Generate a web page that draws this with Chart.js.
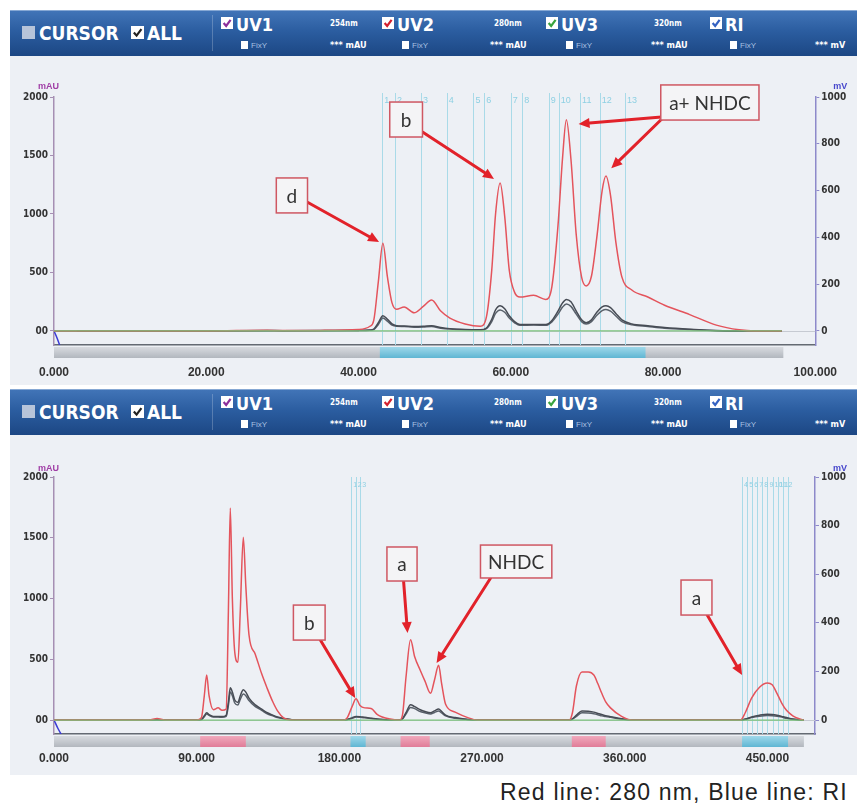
<!DOCTYPE html>
<html>
<head>
<meta charset="utf-8">
<script src="https://cdn.jsdelivr.net/npm/chart.js@4.4.1/dist/chart.umd.min.js"></script>
<style>
  body { margin: 0; background: #fff; }
  #page { position: relative; width: 857px; height: 810px; overflow: hidden; }
  .bar { position: absolute; left: 10px; width: 847px; height: 45px;
         background: linear-gradient(#4174b7, #2b5da0 45%, #1c4784); border-top: 1px solid #86a8d4; }
  .sep { position: absolute; width: 1px; height: 36px; background: rgba(255,255,255,0.22); }
  .t { position: absolute; color: #fff; white-space: nowrap; transform: translateY(-50%); }
  .big { font: bold 19px "Liberation Sans Narrow", "DejaVu Sans Condensed", sans-serif; }
  .nm { font: bold 8px "Liberation Sans Narrow", "DejaVu Sans Condensed", sans-serif; }
  .fix { font: 8px "Liberation Sans", sans-serif; color: #a9c0e2; }
  .cb { position: absolute; }
  canvas { position: absolute; left: 10px; background: #edf0f5; }
  #note { position: absolute; left: 500px; top: 779px; font: 23px "Liberation Sans", Arial, sans-serif;
          letter-spacing: 1.2px; color: #222; white-space: nowrap; }
</style>
</head>
<body>
<div id="page">
  <canvas id="top" width="847" height="330" style="top:55px"></canvas>
  <canvas id="bottom" width="847" height="340" style="top:435px"></canvas>
  <div id="note">Red line: 280 nm, Blue line: RI</div>
</div>
<script>
// ---- header bar texts
const channels = ['UV1', 'UV2', 'UV3', 'RI'];
const channelChecks = ['#8b2f9b', '#d3202e', '#3aa43f', '#3462c2'];
const wavelengths = ['254nm', '280nm', '320nm'];
const units = ['*** mAU', '*** mAU', '*** mAU', '*** mV'];

// ---- top run (time, min)
const t1 = [0, 0.4, 0.9, 1.5, 3, 10, 20, 28, 30, 35, 40,
  41.5, 42.0, 42.6, 43.2, 43.8, 44.4, 45.0, 46.0, 47.3, 48.5, 49.6, 50.8, 52.0, 54.0,
  56.0, 56.8, 57.5, 58.0, 58.6, 59.2, 59.8, 60.5, 61.2, 63.0, 64.6, 65.4, 66.2, 66.8,
  67.3, 67.9, 68.6, 69.3, 69.9, 70.6, 71.3, 72.0, 72.5, 73.1, 73.8, 74.6, 75.9, 78.0,
  80.2, 83.5, 87.0, 90.0, 92.0, 95.6];
const uv2Top = [0, 0, 0, 0, 0, 0, 0, 6, 3, 5, 12,
  40, 90, 420, 750, 460, 240, 185, 205, 155, 210, 265, 170, 110, 60,
  40, 120, 520, 1000, 1265, 980, 520, 330, 290, 305, 270, 380, 900, 1480,
  1805, 1470, 820, 460, 385, 470, 800, 1200, 1325, 1160, 760, 460, 350, 290,
  220, 140, 50, 10, 0, 0];
const uv1Top = [0, 0, 0, 0, 0, 0, 0, 4, 2, 3, 5,
  8, 15, 70, 130, 100, 60, 45, 42, 38, 40, 45, 30, 20, 12,
  10, 25, 100, 180, 215, 190, 130, 80, 55, 55, 55, 90, 170, 240,
  270, 250, 170, 95, 70, 95, 160, 205, 215, 200, 150, 95, 60, 45,
  30, 15, 4, 0, 0, 0];
const uv3Top = t1.map(() => 0);
const riTop = [0, -30, -75, null, 0, 0, 0, 1, 1, 1, 2,
  3, 6, 27, 55, 42, 25, 20, 19, 16, 17, 19, 12, 8, 5,
  4, 10, 40, 75, 90, 80, 55, 35, 24, 25, 24, 39, 72, 102,
  115, 105, 72, 40, 30, 40, 67, 87, 92, 85, 64, 40, 26, 19,
  12, 6, 1, 0, 0, 0];
const cutsTop = [43.1, 44.8, 48.2, 51.6, 55.1, 56.5, 60.0, 61.5, 65.0, 66.3, 69.1, 71.7, 75.0];
const cutLabelsTop = ['1', '2', '3', '4', '5', '6', '7', '8', '9', '10', '11', '12', '13'];
const xTicksTop = [0, 20, 40, 60, 80, 100];

// ---- bottom run (time, min)
const t2 = [0, 2.5, 6, 10, 60, 65, 70, 90, 93, 94.8, 96.3, 97.8, 100.5, 103.5, 106, 108.6,
  110, 111.2, 112.5, 114, 116, 117.5, 119.4, 121, 123, 127, 131, 134.5, 138, 141, 145, 150, 155,
  183, 185, 188, 190.5, 193, 196, 200, 204, 212, 218,
  219.8, 222, 224.9, 227.5, 231, 234, 237.5, 240, 242.6, 244.5, 247, 253, 261, 267,
  325, 327, 329.5, 333, 337, 340.5, 343, 345.5, 348, 351, 358, 364.5,
  433, 436, 440, 445, 450, 453, 456, 459, 462, 466, 470, 473];
const uv2Bottom = [0, 0, 0, 0, 0, 12, 0, 0, 20, 200, 370, 200, 85, 100, 80, 90,
  900, 1745, 1000, 560, 475, 900, 1505, 1100, 700, 540, 380, 260, 150, 75, 15, 0, 0,
  0, 20, 110, 175, 120, 100, 95, 45, 8, 0,
  40, 350, 660, 520, 410, 320, 220, 330, 450, 300, 130, 65, 20, 0,
  0, 60, 280, 395, 395, 370, 300, 220, 150, 100, 30, 0,
  0, 60, 180, 270, 305, 290, 220, 140, 80, 35, 10, 0];
const uv1Bottom = [0, 0, 0, 0, 0, 3, 0, 0, 5, 35, 60, 45, 30, 30, 28, 40,
  150, 265, 230, 165, 145, 200, 250, 230, 180, 125, 90, 60, 40, 25, 12, 3, 0,
  0, 5, 18, 30, 28, 22, 15, 8, 0, 0,
  10, 60, 125, 110, 85, 70, 60, 75, 90, 70, 40, 20, 5, 0,
  0, 10, 40, 75, 72, 65, 55, 45, 35, 28, 10, 0,
  0, 8, 25, 40, 48, 46, 40, 30, 20, 8, 3, 0];
const uv3Bottom = t2.map(() => 0);
const riBottom = [0, -35, -75, null, 0, 1, 0, 0, 2, 14, 25, 19, 12, 12, 11, 15,
  60, 115, 100, 70, 62, 85, 107, 100, 80, 55, 40, 25, 17, 10, 5, 1, 0,
  0, 2, 7, 12, 11, 9, 6, 3, 0, 0,
  4, 25, 52, 47, 35, 30, 25, 31, 37, 29, 17, 7, 2, 0,
  0, 4, 15, 30, 29, 26, 22, 17, 14, 11, 4, 0,
  0, 3, 10, 16, 19, 18, 16, 12, 7, 3, 1, 0];
const cutsBottom = [187.5, 190.3, 193.1, 434, 437.2, 440.4, 443.6, 446.8, 450, 453.2, 456.4, 459.6, 462.8];
const cutLabelsBottom = ['1', '2', '3', '4', '5', '6', '7', '8', '9', '10', '11', '12', ''];
const xTicksBottom = [0, 90, 180, 270, 360, 450];

const yTicksLeft = [0, 500, 1000, 1500, 2000];
const yTicksRight = [0, 200, 400, 600, 800, 1000];

// ---- header bars
function header(top) {
  const page = document.getElementById('page');
  const box = (x, y, s, check, fill) =>
    `<svg class="cb" style="left:${x}px;top:${y}px" width="${s}" height="${s}"><rect width="${s}" height="${s}" fill="${fill || '#fff'}"/>` +
    (check ? `<polyline points="${s*0.22},${s*0.5} ${s*0.43},${s*0.74} ${s*0.8},${s*0.24}" stroke="${check}" stroke-width="2.2" fill="none"/>` : '') + '</svg>';
  let h = `<div class="bar" style="top:${top}px"></div>`;
  h += box(22, top + 16, 13, null, '#b7c4d9');
  h += `<div class="t big" style="left:39px;top:${top + 23}px">CURSOR</div>`;
  h += box(131, top + 16, 13, '#222');
  h += `<div class="t big" style="left:147px;top:${top + 23}px">ALL</div>`;
  h += `<div class="sep" style="left:212px;top:${top + 5}px"></div>`;
  const cx = [221, 382, 546, 710], wx = [330, 494, 654], ux = [330, 490, 651, 815];
  channels.forEach((c, i) => {
    h += box(cx[i], top + 7, 12, channelChecks[i]);
    h += `<div class="t big" style="left:${cx[i] + 15}px;top:${top + 14}px;font-size:18px">${c}</div>`;
    h += `<div style="position:absolute;left:${cx[i] + 20}px;top:${top + 31}px;width:7px;height:8px;background:#fff"></div>`;
    h += `<div class="t fix" style="left:${cx[i] + 30}px;top:${top + 35}px">FixY</div>`;
    h += `<div class="t nm" style="left:${ux[i]}px;top:${top + 35}px;font-size:9px">${units[i]}</div>`;
  });
  wavelengths.forEach((w, i) => {
    h += `<div class="t nm" style="left:${wx[i]}px;top:${top + 13}px">${w}</div>`;
  });
  page.insertAdjacentHTML('beforeend', h);
}
header(10);
header(389);

// ---- drawing helpers
function arrow(ctx, x1, y1, x2, y2) {
  const a = Math.atan2(y2 - y1, x2 - x1), L = 11, W = 5;
  const bx = x2 - L * Math.cos(a), by = y2 - L * Math.sin(a);
  ctx.strokeStyle = '#e2222a';
  ctx.fillStyle = '#e2222a';
  ctx.lineWidth = 3;
  ctx.lineCap = 'round';
  ctx.beginPath(); ctx.moveTo(x1, y1); ctx.lineTo(bx, by); ctx.stroke();
  ctx.beginPath();
  ctx.moveTo(x2, y2);
  ctx.lineTo(bx + W * Math.sin(a), by - W * Math.cos(a));
  ctx.lineTo(bx - W * Math.sin(a), by + W * Math.cos(a));
  ctx.closePath(); ctx.fill();
}

const decor = {
  id: 'decor',
  beforeDatasetsDraw(chart, args, o) {
    const { ctx, chartArea: a } = chart;
    const x = chart.scales.x, y = chart.scales.y;
    ctx.save();
    const zy = Math.round(y.getPixelForValue(0)) + 0.5;
    ctx.strokeStyle = '#c6cad2';
    ctx.lineWidth = 1;
    ctx.beginPath(); ctx.moveTo(a.left, zy); ctx.lineTo(a.right, zy); ctx.stroke();
    ctx.strokeStyle = '#a9dae8';
    o.cuts.forEach(c => {
      const px = Math.round(x.getPixelForValue(c)) + 0.5;
      ctx.beginPath(); ctx.moveTo(px, a.top - o.cutTop); ctx.lineTo(px, a.bottom); ctx.stroke();
    });
    ctx.fillStyle = '#8ed0e3';
    ctx.font = o.cutFont;
    ctx.textBaseline = 'middle';
    o.cutLabels.forEach((lab, i) => ctx.fillText(lab, x.getPixelForValue(o.cuts[i]) + 2, a.top + o.labelY));
    ctx.restore();
  },
  afterDraw(chart, args, o) {
    const { ctx, chartArea: a } = chart;
    const x = chart.scales.x, y = chart.scales.y;
    const X = v => x.getPixelForValue(v), Y = v => y.getPixelForValue(v);
    ctx.save();
    // fraction track under the axis
    const t0 = a.bottom + 2, th = 11;
    let g = ctx.createLinearGradient(0, t0, 0, t0 + th);
    g.addColorStop(0, '#d8dbe0'); g.addColorStop(1, '#b2b7be');
    ctx.fillStyle = g;
    ctx.fillRect(X(0), t0, X(o.trackEnd) - X(0), th);
    o.segments.forEach(s => {
      const sg = ctx.createLinearGradient(0, t0, 0, t0 + th);
      sg.addColorStop(0, s[2] === 'blue' ? '#9fd8ea' : '#f1a9bd');
      sg.addColorStop(1, s[2] === 'blue' ? '#5fb6d3' : '#e07c98');
      ctx.fillStyle = sg;
      ctx.fillRect(X(s[0]), t0, X(s[1]) - X(s[0]), th);
    });
    // unit labels
    ctx.font = 'bold 9px "Liberation Sans", sans-serif';
    ctx.textBaseline = 'alphabetic';
    ctx.fillStyle = '#a03ea6';
    ctx.fillText('mAU', a.left - 16, a.top - o.unitY);
    ctx.fillStyle = '#4747cc';
    ctx.fillText('mV', a.right + 18, a.top - o.unitY);
    // callouts
    o.arrows.forEach(r => arrow(ctx, X(r[0]), Y(r[1]), X(r[2]), Y(r[3])));
    ctx.font = '19px Lato, "Liberation Sans", sans-serif';
    ctx.textAlign = 'center';
    ctx.textBaseline = 'middle';
    o.boxes.forEach(b => {
      const x0 = X(b.x0), x1 = X(b.x1), y0 = Y(b.y0), y1 = Y(b.y1);
      ctx.fillStyle = '#f4f4f6';
      ctx.fillRect(x0, y0, x1 - x0, y1 - y0);
      ctx.strokeStyle = '#cf5762';
      ctx.lineWidth = 1.5;
      ctx.strokeRect(x0, y0, x1 - x0, y1 - y0);
      ctx.fillStyle = '#333';
      ctx.fillText(b.text, (x0 + x1) / 2, (y0 + y1) / 2 + 1);
    });
    ctx.restore();
  }
};

function series(t, v) {
  return t.map((tt, i) => ({ x: tt, y: v[i] }));
}

function chromatogram(id, c) {
  const line = (label, data, color, width, axis) => ({
    label, data, borderColor: color, borderWidth: width, yAxisID: axis,
    pointRadius: 0, cubicInterpolationMode: 'monotone', spanGaps: false
  });
  const ri = line('RI', series(c.t, c.ri), '#59616b', 1.5, 'y2');
  // the RI trace is blue where it drops below zero at the start
  ri.segment = { borderColor: s => (s.p0.parsed.y < 0 || s.p1.parsed.y < 0) ? '#3b3bd6' : undefined };
  const tickFont = { size: 10, weight: 'bold', family: '"Liberation Sans Narrow", "DejaVu Sans Condensed", sans-serif' };
  return new Chart(document.getElementById(id).getContext('2d'), {
    type: 'line',
    data: {
      datasets: [
        line('UV3 320nm', series(c.t, c.uv3), '#7cc47c', 1.2, 'y'),
        line('UV2 280nm', series(c.t, c.uv2), '#e4545c', 1.5, 'y'),
        line('UV1 254nm', series(c.t, c.uv1), '#474c55', 1.5, 'y'),
        ri
      ]
    },
    options: {
      responsive: false,
      animation: false,
      devicePixelRatio: 1,
      layout: { padding: { top: 42 } },
      plugins: {
        legend: { display: false },
        tooltip: { enabled: false },
        decor: c.decor
      },
      scales: {
        x: {
          type: 'linear', min: 0, max: c.xMax,
          afterBuildTicks: s => { s.ticks = c.xTicks.map(v => ({ value: v })); },
          afterFit: s => { s.height = c.xH; },
          grid: { drawOnChartArea: false, drawTicks: false },
          border: { color: '#646a73', width: 1.5 },
          ticks: {
            padding: c.xPad, color: '#333', maxRotation: 0, autoSkip: false,
            font: { size: 12, weight: 'bold', family: '"Liberation Sans", sans-serif' },
            callback: v => v.toFixed(3)
          }
        },
        y: {
          position: 'left', min: c.yMin, max: 2000,
          afterBuildTicks: s => { s.ticks = yTicksLeft.map(v => ({ value: v })); },
          afterFit: s => { s.width = 44; },
          grid: { drawOnChartArea: false, tickLength: 4, color: '#a68fb3' },
          border: { color: '#a68fb3', width: 1.5 },
          ticks: { padding: 2, color: '#333', font: tickFont, callback: v => v === 0 ? '00' : String(v) }
        },
        y2: {
          position: 'right', min: c.yMin / 2, max: 1000,
          afterBuildTicks: s => { s.ticks = yTicksRight.map(v => ({ value: v })); },
          afterFit: s => { s.width = c.rightW; },
          grid: { drawOnChartArea: false, tickLength: 4, color: '#8d89ca' },
          border: { color: '#8d89ca', width: 1.5 },
          ticks: { padding: 2, color: '#333', font: tickFont, callback: v => String(v) }
        }
      }
    },
    plugins: [decor]
  });
}

const topChart = chromatogram('top', {
  t: t1, uv2: uv2Top, uv1: uv1Top, uv3: uv3Top, ri: riTop,
  xMax: 100, xTicks: xTicksTop, yMin: -120, xH: 40, xPad: 20, rightW: 35,
  decor: {
    cuts: cutsTop, cutLabels: cutLabelsTop, cutTop: 4, labelY: 4, cutFont: '9px "Liberation Sans", sans-serif',
    trackEnd: 95.8, segments: [[42.8, 77.7, 'blue']], unitY: 8,
    boxes: [
      { text: 'd', x0: 29.2, x1: 33.3, y0: 1308, y1: 1009 },
      { text: 'b', x0: 44.1, x1: 48.4, y0: 1957, y1: 1658 },
      { text: 'a+ NHDC', x0: 79.7, x1: 92.6, y0: 2103, y1: 1803 }
    ],
    arrows: [
      [33.3, 1100, 42.7, 760],
      [48.4, 1700, 57.8, 1300],
      [79.8, 1830, 68.9, 1770],
      [79.8, 1810, 73.2, 1390]
    ]
  }
});

const bottomChart = chromatogram('bottom', {
  t: t2, uv2: uv2Bottom, uv1: uv1Bottom, uv3: uv3Bottom, ri: riBottom,
  xMax: 480, xTicks: xTicksBottom, yMin: -115, xH: 41, xPad: 17, rightW: 42,
  decor: {
    cuts: cutsBottom, cutLabels: cutLabelsBottom, cutTop: 0, labelY: 8, cutFont: '7px "Liberation Sans", sans-serif',
    trackEnd: 473, unitY: 6,
    segments: [[92.2, 121, 'pink'], [187, 196.6, 'blue'], [218.6, 237, 'pink'], [326.6, 348, 'pink'], [434, 463, 'blue']],
    boxes: [
      { text: 'b', x0: 151, x1: 171, y0: 946, y1: 658 },
      { text: 'a', x0: 210, x1: 229, y0: 1424, y1: 1144 },
      { text: 'NHDC', x0: 269, x1: 314, y0: 1440, y1: 1169 },
      { text: 'a', x0: 395.5, x1: 415, y0: 1152, y1: 864 }
    ],
    arrows: [
      [168, 658, 190, 181],
      [220.5, 1144, 223, 716],
      [275.4, 1169, 241.3, 469],
      [412, 864, 434, 370]
    ]
  }
});
</script>
</body>
</html>
